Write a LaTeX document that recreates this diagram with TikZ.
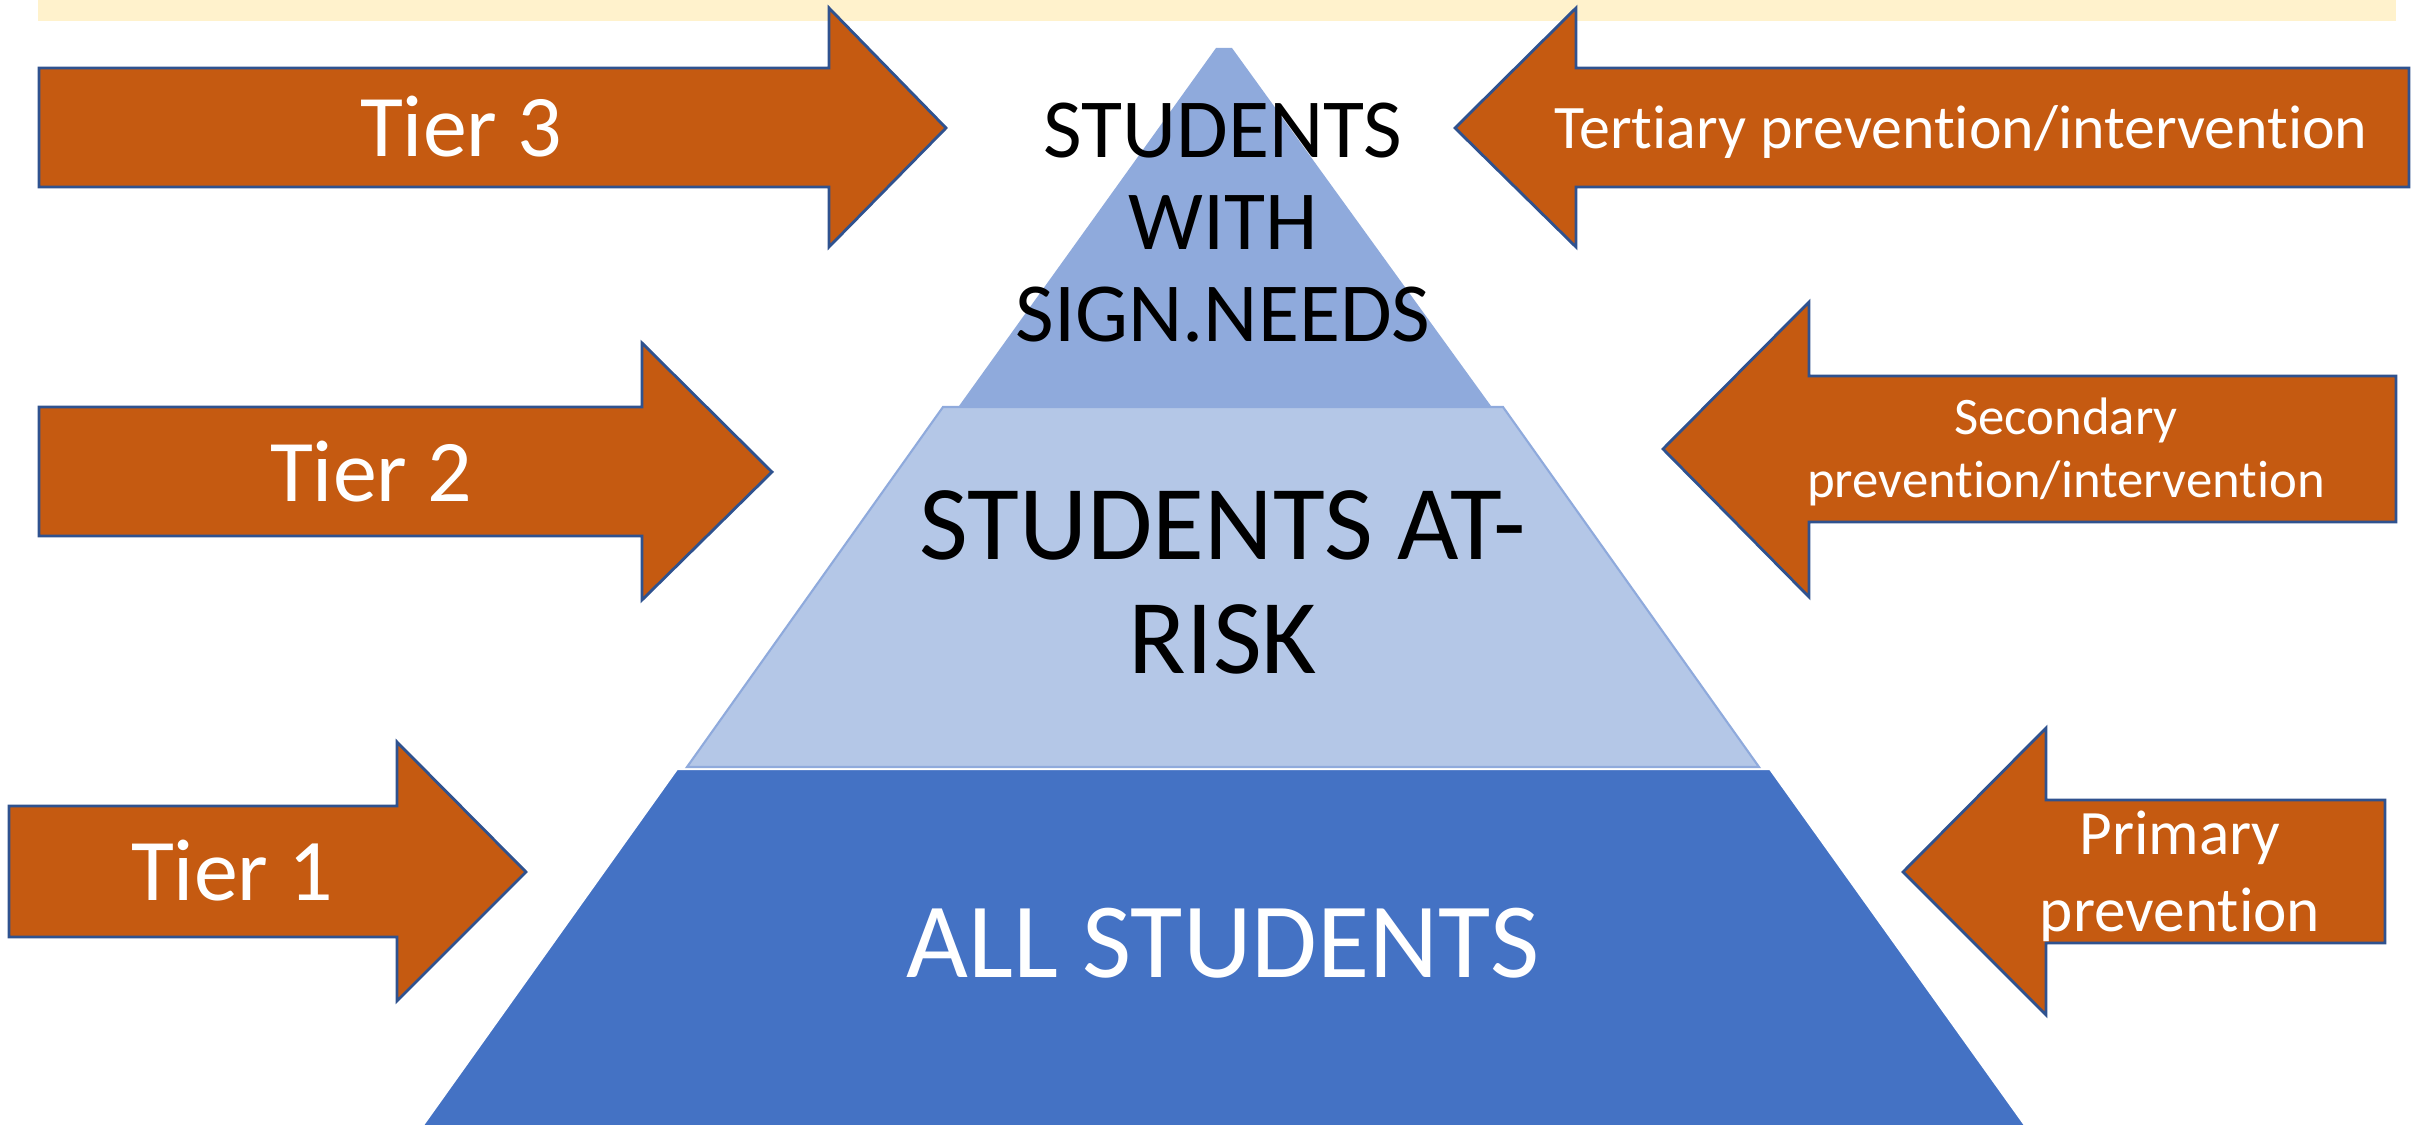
\documentclass[tikz,border=0pt]{standalone}
\usepackage{fontspec}
\setmainfont{Carlito}[Ligatures=NoCommon]
\usetikzlibrary{positioning}

\definecolor{bandyellow}{HTML}{FFF2CC}
\definecolor{arroworange}{HTML}{C55A11}
\definecolor{arrowedge}{HTML}{2F528F}
\definecolor{tierdark}{HTML}{4472C4}
\definecolor{tiermid}{HTML}{B4C7E7}
\definecolor{tiertop}{HTML}{8FAADC}

\begin{document}
\begin{tikzpicture}[
    x=0.01cm, y=-0.01cm,
    blockarrow/.style={fill=arroworange, draw=arrowedge, line width=0.8pt, line join=miter},
    level/.style={line width=0.6pt},
    arrowtext/.style={text=white, anchor=base, inner sep=0pt, align=center},
    leveltext/.style={anchor=base, inner sep=0pt, align=center},
]
\useasboundingbox (0,0) rectangle (2420,1125);

% Strip along the top
\fill[bandyellow] (38,0) rectangle (2396,21);

% Pyramid levels
\filldraw[level, fill=tierdark, draw=white] (677,769) -- (1770,769) -- (2032,1135) -- (416,1135) -- cycle;
\filldraw[level, fill=tiermid, draw=tiertop] (943,407) -- (1503,407) -- (1759,767) -- (687,767) -- cycle;
\fill[tiertop] (1216,48) -- (1232,48) -- (1491,406) -- (959,406) -- cycle;

% Arrows on the left
\draw[blockarrow] (39,68) -- (829,68) -- (829,8) -- (946,128) -- (829,247) -- (829,187) -- (39,187) -- cycle;
\draw[blockarrow] (39,407) -- (642,407) -- (642,343) -- (772,472) -- (642,600) -- (642,536) -- (39,536) -- cycle;
\draw[blockarrow] (9,806) -- (397,806) -- (397,742) -- (526,872) -- (397,1001) -- (397,937) -- (9,937) -- cycle;

% Arrows on the right
\draw[blockarrow] (2409,68) -- (1576,68) -- (1576,8) -- (1455,128) -- (1576,247) -- (1576,187) -- (2409,187) -- cycle;
\draw[blockarrow] (2396,376) -- (1809,376) -- (1809,302) -- (1663,449) -- (1809,597) -- (1809,522) -- (2396,522) -- cycle;
\draw[blockarrow] (2385,800) -- (2046,800) -- (2046,728) -- (1903,872) -- (2046,1015) -- (2046,943) -- (2385,943) -- cycle;

% Tier labels
\node[arrowtext, font=\fontsize{25}{30}\selectfont] (tierthree) at (461,157) {Tier 3};
\node[arrowtext, font=\fontsize{25}{30}\selectfont] (tiertwo) at (371,502) {Tier 2};
\node[arrowtext, font=\fontsize{25}{30}\selectfont] (tierone) at (232,901) {Tier 1};

% Prevention labels (base = last line)
\node[arrowtext, font=\fontsize{17.6}{21}\selectfont] (tertiary) at (1961,149) {Tertiary prevention/intervention};
\node[arrowtext, font=\fontsize{15}{18}\selectfont] (secondary) at (2066,498) {Secondary\\prevention/intervention};
\node[arrowtext, font=\fontsize{18}{22}\selectfont] (primary) at (2180,932) {Primary\\prevention};

% Level texts
\node[leveltext, font=\fontsize{23.9}{26.2}\selectfont] (signneeds) at (1223,342) {STUDENTS\\WITH\\SIGN.NEEDS};
\node[leveltext, font=\fontsize{30.2}{32.7}\selectfont] (atrisk) at (1223,674) {STUDENTS AT-\\RISK};
\node[leveltext, text=white, font=\fontsize{30.4}{36}\selectfont] (allstudents) at (1223,978) {ALL STUDENTS};

\end{tikzpicture}
\end{document}
